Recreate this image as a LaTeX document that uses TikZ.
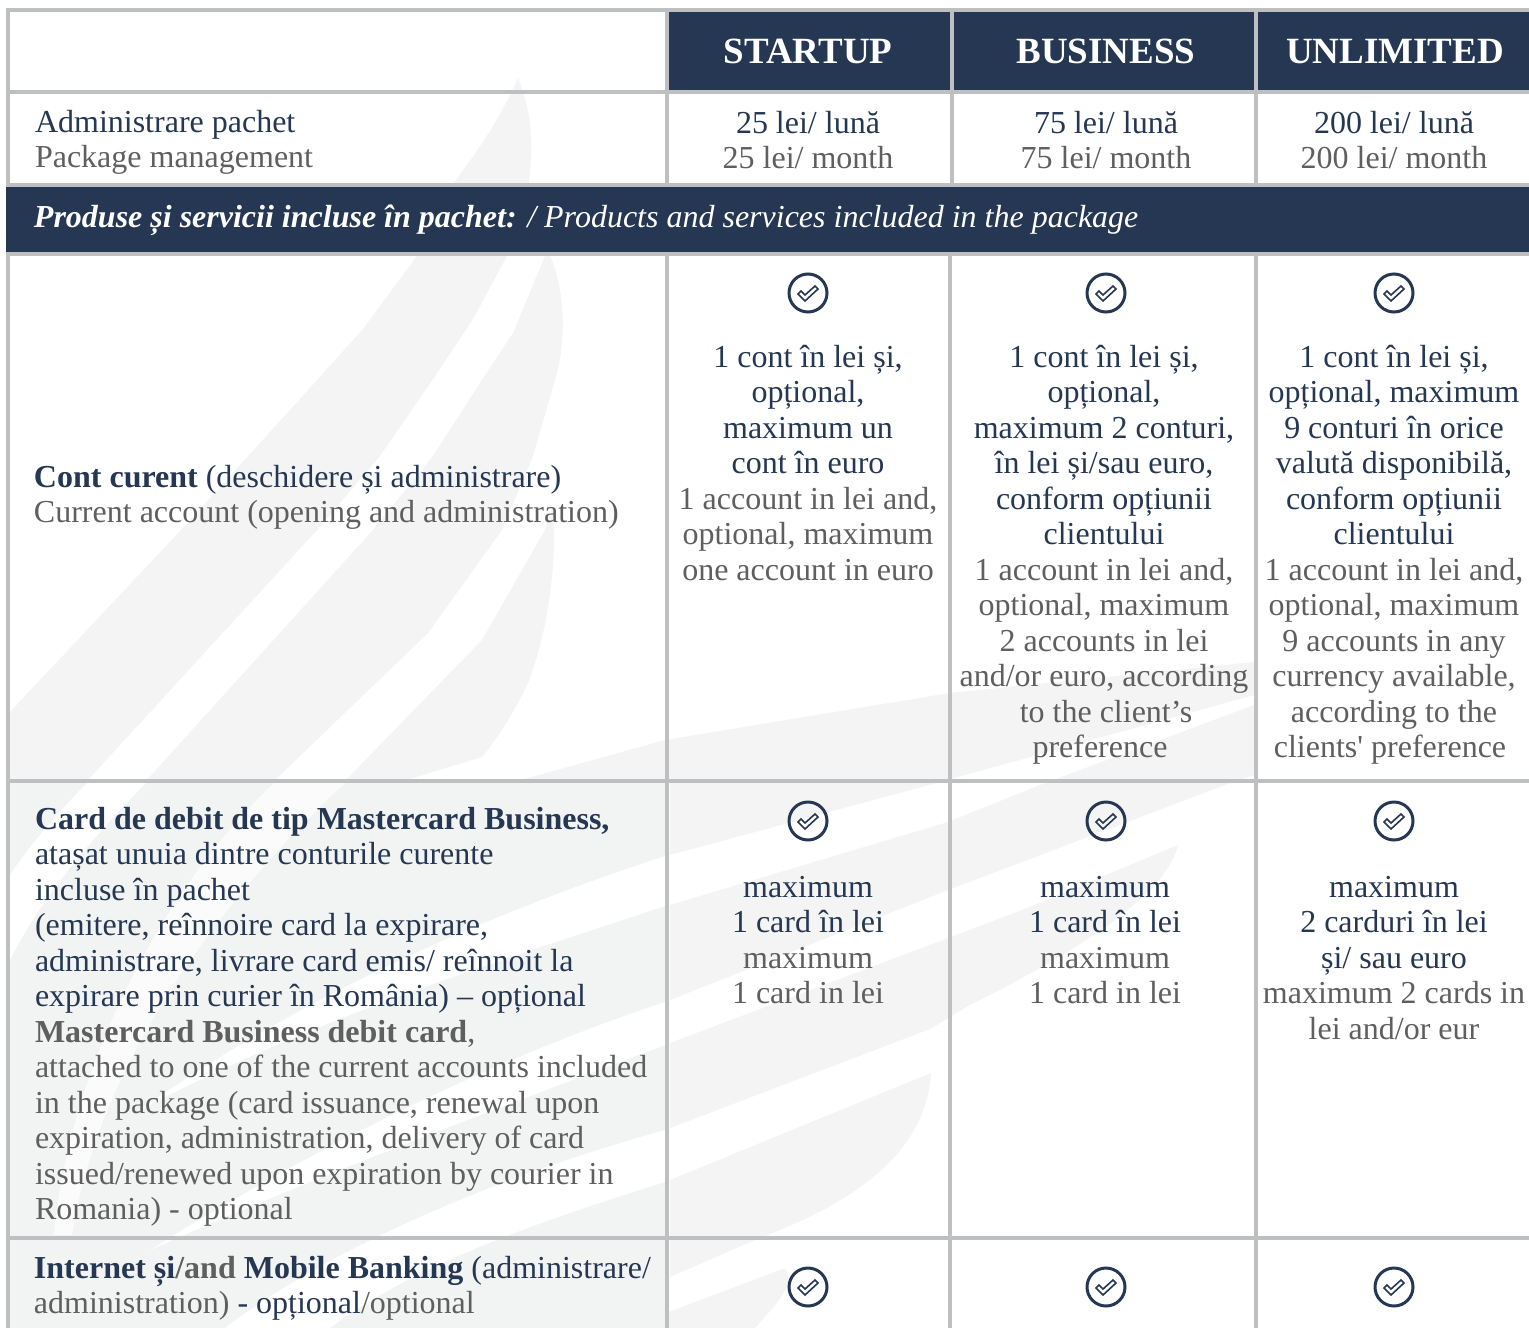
\documentclass[tikz,border=0pt]{standalone}
\usepackage{fontspec}
\setmainfont{Liberation Serif}
\newfontfamily\nolig{Liberation Serif}
\definecolor{navy}{HTML}{253753}
\definecolor{gry}{HTML}{5F5F5F}
\definecolor{rule}{HTML}{BEBFC1}
\definecolor{wm}{HTML}{F4F4F4}
\definecolor{wmd}{HTML}{F2F3F3}
\newcommand{\fl}{\rule{0pt}{25pt}}
\newcommand{\gy}[1]{\textcolor{gry}{#1}}
\tikzset{
  x=1pt,y=-1pt,
  cell/.style={inner sep=0pt,outer sep=0pt,anchor=north,align=center,font=\fontsize{32}{35.5}\selectfont,text=navy},
  lcell/.style={cell,anchor=north west,align=left},
  head/.style={inner sep=0pt,anchor=base,text=white,font=\fontsize{37}{40}\selectfont\bfseries},
  gridline/.style={draw=rule,line width=4pt},
  darkfill/.style={fill=navy},
  ring/.style={circle,draw=navy,line width=3pt,minimum size=38pt,inner sep=0pt},
  tick/.style={draw=navy,line width=1.6pt,line join=miter},
  wmark/.style={fill=wm,draw=none},
  wmlow/.style={fill=wmd,draw=none},
  wgap/.style={fill=white,draw=none},
}
\newcommand{\chk}[3]{%
  \node[ring] (#1) at (#2,#3) {};
  \draw[tick] ([shift={(-10,1)}]#1.center) -- ++(7,7) -- ++(13,-12) -- ++(-3,-3) -- ++(-10,9) -- ++(-4,-4) -- cycle;
}
\begin{document}
\begin{tikzpicture}
\useasboundingbox (0,0) rectangle (1529,1328);
\fill[white] (0,0) rectangle (1529,1328);
% watermark: upper feathers
\fill[wmark] (518,78) .. controls (495,130) and (470,160) .. (446,194) -- (417,256) -- (363,329) -- (300,399) -- (181,530) -- (10,712) -- (10,781) -- (87,781) -- (317,530) -- (380,456) -- (433,379) -- (473,319) -- (507,256) .. controls (525,215) and (533,175) .. (531,136) .. controls (530,115) and (525,95) .. (518,78) -- cycle;
\fill[wmark] (545,245) -- (545,256) -- (513,333) -- (480,383) -- (433,456) -- (373,530) -- (146,781) -- (274,781) -- (428,633) -- (502,530) -- (533,456) -- (557,373) .. controls (565,340) and (568,290) .. (545,245) -- cycle;
\fill[wmark] (553,506) -- (545,530) -- (482,640) -- (345,781) -- (403,781) -- (482,757) .. controls (500,735) and (515,710) .. (528,683) .. controls (545,640) and (558,570) .. (553,506) -- cycle;
% watermark: lower left cell
\fill[wmlow] (10,783) rectangle (665,1328);
\fill[wgap] (87,783) -- (146,783) .. controls (90,840) and (40,900) .. (10,960) -- (10,875) .. controls (30,845) and (60,810) .. (87,783) -- cycle;
\fill[wgap,opacity=.75] (274,783) -- (345,783) .. controls (240,880) and (100,1050) .. (72,1235) -- (54,1235) .. controls (70,1060) and (170,880) .. (274,783) -- cycle;
\fill[wgap] (665,856) -- (665,906) .. controls (520,955) and (330,1010) .. (140,1110) .. controls (310,990) and (500,910) .. (665,856) -- cycle;
\fill[wgap] (665,1002) -- (665,1045) .. controls (520,1100) and (330,1170) .. (150,1250) .. controls (310,1150) and (490,1060) .. (665,1002) -- cycle;
\fill[wgap] (665,1130) -- (665,1182) .. controls (560,1215) and (420,1260) .. (330,1328) -- (225,1328) .. controls (340,1240) and (520,1170) .. (665,1130) -- cycle;
% watermark: bands to the right
\fill[wmark] (510,783) -- (665,740) -- (950,693) -- (1254,662) -- (1254,695) -- (929,785) -- (670,855) -- (670,783) -- cycle;
\fill[wmark] (670,905) -- (948,822) -- (1040,785) -- (1254,705) -- (1254,775) -- (1225,785) -- (948,890) -- (670,1000) -- cycle;
\fill[wmark] (1178,845) -- (1022,910) -- (930,945) -- (670,1043) -- (670,1128) -- (930,1029) -- (968,1006) .. controls (1060,960) and (1165,900) .. (1178,845) -- cycle;
\fill[wmark] (931,1073) -- (670,1180) -- (670,1277) -- (755,1240) .. controls (820,1215) and (925,1170) .. (931,1073) -- cycle;
\fill[wmark] (669,1312) -- (785,1268) .. controls (795,1285) and (780,1300) .. (755,1328) -- (669,1328) -- cycle;
% dark fills
\fill[darkfill] (669,12) rectangle (950,90);
\fill[darkfill] (954,12) rectangle (1254,90);
\fill[darkfill] (1258,12) rectangle (1529,90);
\fill[darkfill] (6,187) rectangle (1529,252);
% grid
\draw[gridline] (6,10) -- (1529,10);
\draw[gridline] (6,92) -- (1529,92);
\draw[gridline] (6,185) -- (1529,185);
\draw[gridline] (6,254) -- (1529,254);
\draw[gridline] (6,781) -- (1529,781);
\draw[gridline] (6,1238) -- (1529,1238);
\draw[gridline] (8,8) -- (8,185);
\draw[gridline] (8,254) -- (8,1328);
\draw[gridline] (667,8) -- (667,185);
\draw[gridline] (667,254) -- (667,1328);
\draw[gridline] (952,8) -- (952,185);
\draw[gridline] (950,254) -- (950,1328);
\draw[gridline] (1256,8) -- (1256,185);
\draw[gridline] (1256,254) -- (1256,1328);
% header
\node[head] (h1) at (808,63) {STARTUP};
\node[head] (h2) at (1106,63) {BUSINESS};
\node[head] (h3) at (1395,63) {UNLIMITED};
% package row
\node[lcell] (a0) at (35,107) {\fl Administrare pachet\\\gy{Package management}};
\node[cell] (a1) at (808,108) {\fl 25 lei/ lună\\\gy{25 lei/ month}};
\node[cell] (a2) at (1106,108) {\fl 75 lei/ lună\\\gy{75 lei/ month}};
\node[cell] (a3) at (1394,108) {\fl 200 lei/ lună\\\gy{200 lei/ month}};
% band
\node[lcell,text=white] (band) at (34,202) {\fl\itshape\textbf{Produse și servicii incluse în pachet:} / Products and services included in the package};
% current account row
\node[lcell] (b0) at (34,462) {\fl\textbf{Cont curent} (deschidere și administrare)\\\gy{Current account (opening and administration)}};
\chk{k1}{808}{293}\chk{k2}{1106}{293}\chk{k3}{1394}{293}
\node[cell] (b1) at (808,342) {\fl 1 cont în lei și,\\opțional,\\maximum un\\cont în euro\\\gy{1 account in lei and,}\\\gy{optional, maximum}\\\gy{one account in euro}};
\node[cell] (b2) at (1104,342) {\fl 1 cont în lei și,\\opțional,\\maximum 2 conturi,\\în lei și/sau euro,\\conform opțiunii\\clientului\\\gy{1 account in lei and,}\\\gy{optional, maximum}\\\gy{2 accounts in lei}\\\gy{and/or euro, according}\\\gy{to the client’s\hspace{-4pt}}\\\gy{preference\hspace{8pt}}};
\node[cell] (b3) at (1394,342) {\fl 1 cont în lei și,\\opțional, maximum\\9 conturi în orice\\valută disponibilă,\\conform opțiunii\\clientului\\\gy{1 account in lei and,}\\\gy{optional, maximum}\\\gy{9 accounts in any}\\\gy{currency available,}\\\gy{according to the}\\\gy{clients{\nolig '} preference\hspace{8pt}}};
% card row
\node[lcell] (c0) at (35,804) {\fl\textbf{Card de debit de tip Mastercard Business,}\\atașat unuia dintre conturile curente\\incluse în pachet\\(emitere, reînnoire card la expirare,\\administrare, livrare card emis/ reînnoit la\\expirare prin curier în România) – opțional\\\gy{\textbf{Mastercard Business debit card},}\\\gy{attached to one of the current accounts included}\\\gy{in the package (card issuance, renewal upon}\\\gy{expiration, administration, delivery of card}\\\gy{issued/renewed upon expiration by courier in}\\\gy{Romania) - optional}};
\chk{k4}{808}{821}\chk{k5}{1106}{821}\chk{k6}{1394}{821}
\node[cell] (c1) at (808,872) {\fl maximum\\1 card în lei\\\gy{maximum}\\\gy{1 card in lei}};
\node[cell] (c2) at (1105,872) {\fl maximum\\1 card în lei\\\gy{maximum}\\\gy{1 card in lei}};
\node[cell] (c3) at (1394,872) {\fl maximum\\2 carduri în lei\\și/ sau euro\\\gy{maximum 2 cards in}\\\gy{lei and/or eur}};
% internet row
\node[lcell] (d0) at (34,1253) {\fl\textbf{Internet și\gy{/and} Mobile Banking} (administrare/\\\gy{administration)} - opțional\gy{/optional}};
\chk{k7}{808}{1287}\chk{k8}{1106}{1287}\chk{k9}{1394}{1287}
\end{tikzpicture}
\end{document}
